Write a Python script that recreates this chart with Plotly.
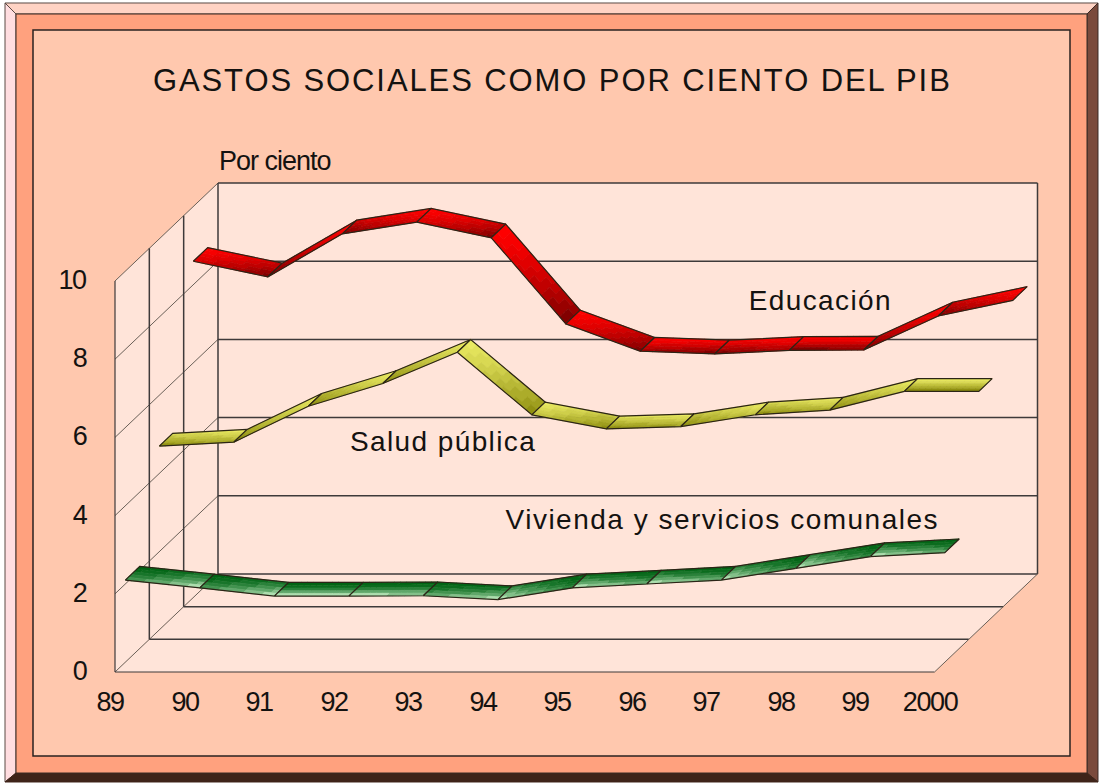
import json
import plotly.graph_objects as go

# ---------- data ----------
years = ["89", "90", "91", "92", "93", "94", "95", "96", "97", "98", "99", "2000"]
educacion = [8.6, 8.2, 9.3, 9.6, 9.2, 7.0, 6.3, 6.23, 6.32, 6.33, 7.2, 7.6]
salud = [4.7, 4.8, 5.72, 6.3, 7.1, 5.5, 5.14, 5.2, 5.5, 5.62, 6.1, 6.1]
vivienda = [2.1, 1.9, 1.69, 1.69, 1.7, 1.6, 1.9, 2.0, 2.1, 2.4, 2.7, 2.8]
value_ticks = [0, 2, 4, 6, 8, 10]

W, H = 1099, 783
# plot scale in pixels
X0, XSTEP, Y0, YSTEP = 115, 74.5, 672, 39.1
# oblique depth vector, in axis units
DX, DY = 103 / XSTEP, 98 / YSTEP
WALL = "#FFE4D9"
GRID = "#3E3A3A"
DIAG = "#6A6058"


def P(i, v, d):
    return i + d * DX, v + d * DY


def px(x):
    return x / W


def py(y):
    return 1 - y / H


def lerp(c1, c2, t):
    return "#%02X%02X%02X" % tuple(round(a + (b - a) * t) for a, b in zip(c1, c2))


fig = go.Figure()


def poly(corners, fill, line=None, width=0):
    xs, ys = zip(*corners)
    fig.add_trace(go.Scatter(x=list(xs) + [xs[0]], y=list(ys) + [ys[0]], mode="lines", fill="toself",
                             fillcolor=fill, line=dict(color=line or fill, width=width),
                             hoverinfo="skip", showlegend=False))


def seg(pts, color=GRID, width=1.5):
    xs, ys = zip(*pts)
    fig.add_trace(go.Scatter(x=list(xs), y=list(ys), mode="lines", line=dict(color=color, width=width),
                             hoverinfo="skip", showlegend=False))


n = len(years) - 1
top = max(value_ticks)
# walls and floor
poly([P(0, 0, 1), P(n, 0, 1), P(n, top, 1), P(0, top, 1)], WALL)
poly([P(0, 0, 0), P(0, 0, 1), P(0, top, 1), P(0, top, 0)], WALL)
poly([P(0, 0, 0), P(n, 0, 0), P(n, 0, 1), P(0, 0, 1)], WALL)
# back wall grid
for v in value_ticks:
    seg([P(0, v, 1), P(n, v, 1)])
    seg([P(0, v, 0), P(0, v, 1)], DIAG, 1)
seg([P(0, 0, 1), P(0, top, 1)])
seg([P(n, 0, 1), P(n, top, 1)])
seg([P(0, 0, 0), P(0, top, 0)], GRID, 1.2)
for d in (1 / 3, 2 / 3):
    seg([P(0, 0, d), P(0, top, d)])
    seg([P(0, 0, d), P(n, 0, d)])
seg([P(0, 0, 0), P(n, 0, 0)], GRID, 1.2)
seg([P(n, 0, 0), P(n, 0, 1)], DIAG, 1)


def ribbon(values, d_front, d_back, c_top, c_bottom, gamma, levels=9, nu=12, nv=5):
    for k in range(len(values) - 1):
        v1, v2 = values[k], values[k + 1]

        def pt(u, w):
            return P(k + u, v1 + (v2 - v1) * u, d_front + (d_back - d_front) * w)

        corners = [pt(0, 0), pt(1, 0), pt(1, 1), pt(0, 1)]
        lo = min(c[1] for c in corners)
        hi = max(c[1] for c in corners)
        cells = {}
        for a in range(nu):
            for b in range(nv):
                quad = [pt(a / nu, b / nv), pt((a + 1) / nu, b / nv),
                        pt((a + 1) / nu, (b + 1) / nv), pt(a / nu, (b + 1) / nv)]
                mid = sum(q[1] for q in quad) / 4
                t = (hi - mid) / (hi - lo)
                cells.setdefault(min(levels - 1, int(t * levels)), []).append(quad)
        for lev, quads in sorted(cells.items()):
            xs, ys = [], []
            for q in quads:
                xs += [c[0] for c in q] + [q[0][0], None]
                ys += [c[1] for c in q] + [q[0][1], None]
            col = lerp(c_top, c_bottom, ((lev + 0.5) / levels) ** gamma)
            fig.add_trace(go.Scatter(x=xs, y=ys, mode="lines", fill="toself", fillcolor=col,
                                     line=dict(color=col, width=0.6), hoverinfo="skip", showlegend=False))
        seg(corners + [corners[0]], "#2B2416", 1.2)


ribbon(educacion, 0.76, 0.90, (255, 0, 0), (118, 0, 0), 1.6)
ribbon(salud, 0.43, 0.56, (236, 236, 100), (138, 138, 12), 1.3)
ribbon(vivienda, 0.10, 0.24, (0, 100, 20), (195, 238, 195), 2.2)

# ---------- frame ----------


def path(pts):
    return "M " + " L ".join(f"{px(x):.5f},{py(y):.5f}" for x, y in pts) + " Z"


shapes = [
    dict(type="path", path=path([(5, 3), (1098, 3), (1087, 14), (16, 14)]), fillcolor="#FFD3C4",
         line=dict(color="#5A4A45", width=1)),
    dict(type="path", path=path([(5, 3), (16, 14), (16, 773), (5, 782)]), fillcolor="#FFDDE0",
         line=dict(color="#5A4A45", width=1)),
    dict(type="path", path=path([(1098, 3), (1087, 14), (1087, 773), (1098, 782)]), fillcolor="#7A4A3C",
         line=dict(color="#3A2A25", width=1)),
    dict(type="path", path=path([(5, 782), (16, 773), (1087, 773), (1098, 782)]), fillcolor="#3F2419",
         line=dict(color="#3F2419", width=1)),
    dict(type="rect", x0=px(16), x1=px(1087), y0=py(773), y1=py(14), fillcolor="#FFA17E",
         line=dict(color="#3A2A25", width=1)),
    dict(type="rect", x0=px(33), x1=px(1070), y0=py(756), y1=py(30), fillcolor="#FFC8AE",
         line=dict(color="#2A2220", width=1.5)),
]
for s in shapes:
    s.update(xref="paper", yref="paper", layer="below")

FONT = "Liberation Sans, Arial, sans-serif"
INK = "#141210"
ann = []


def label(text, x, y, size, anchor="center"):
    ann.append(dict(text=text, xref="paper", yref="paper", x=px(x), y=py(y), xanchor=anchor, yanchor="middle",
                    showarrow=False, font=dict(family=FONT, size=size, color=INK)))


TITLE = "GASTOS SOCIALES COMO POR CIENTO DEL PIB"
label(TITLE, 552, 81, 31)
label("Por ciento", 274.5, 161, 27)
label("Educación", 820, 300, 28)
label("Salud pública", 443, 441, 28)
label("Vivienda y servicios comunales", 722, 519, 28)

for i, t in enumerate(years):
    ann.append(dict(text=t, xref="x", yref="y", x=i, y=0, xanchor="center", yanchor="middle", showarrow=False,
                    xshift=-5, yshift=-30, font=dict(family=FONT, size=27, color=INK)))
for v in value_ticks:
    ann.append(dict(text=str(v), xref="x", yref="y", x=0, y=v, xanchor="right", yanchor="middle", showarrow=False,
                    xshift=-26, yshift=1, font=dict(family=FONT, size=27, color=INK)))

fig.update_layout(
    width=W, height=H, margin=dict(l=0, r=0, t=0, b=0), paper_bgcolor="#FFFFFF", plot_bgcolor="rgba(0,0,0,0)",
    showlegend=False, shapes=shapes, annotations=ann, dragmode=False,
    xaxis=dict(visible=False, range=[-X0 / XSTEP, (W - X0) / XSTEP], fixedrange=True),
    yaxis=dict(visible=False, range=[(Y0 - H) / YSTEP, Y0 / YSTEP], fixedrange=True),
)

spacing = {TITLE: 1.9, "Por ciento": -1.0, "Educación": 1.4, "Salud pública": 1.4,
           "Vivienda y servicios comunales": 1.5}
for t in years + [str(v) for v in value_ticks]:
    spacing[t] = -1.4
post = ("document.body.style.margin='0';var sp=" + json.dumps(spacing) + ";"
        "document.querySelectorAll('.annotation-text').forEach(function(e){var s=sp[e.textContent];"
        "if(s){e.style.letterSpacing=s+'px';}});")
fig.write_html("out.html", config={"displayModeBar": False}, post_script=post)
